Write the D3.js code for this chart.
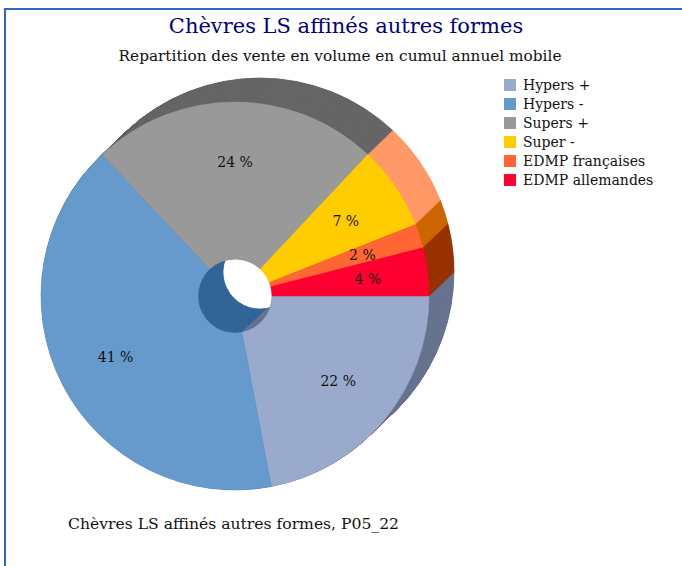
<!DOCTYPE html>
<html>
<head>
<meta charset="utf-8">
<script src="https://cdn.jsdelivr.net/npm/d3@7"></script>
<style>
  html, body { margin: 0; padding: 0; background: #fff; }
  svg { display: block; }
  text { font-family: "DejaVu Serif", serif; }
</style>
</head>
<body>
<svg id="chart" width="682" height="566"></svg>
<script>
// Circuits de distribution et leur part des ventes (%)
const categories = ["Hypers +", "Hypers -", "Supers +", "Super -", "EDMP françaises", "EDMP allemandes"];
const shares = [22, 41, 24, 7, 2, 4];
const faceColors = ["#99aacc", "#6699cc", "#999999", "#ffcc00", "#ff6633", "#ff0033"];
const sideColors = ["#677390", "#336699", "#666666", "#ff9966", "#cc6600", "#993300"];

const titleText = "Chèvres LS affinés autres formes";
const subtitleText = "Repartition des vente en volume en cumul annuel mobile";
const footerText = "Chèvres LS affinés autres formes, P05_22";

const W = 682, H = 566;
const svg = d3.select("#chart");

// cadre
svg.append("path")
  .attr("d", `M5,${H} L5,9 L${W},9`)
  .attr("fill", "none")
  .attr("stroke", "#3169b9")
  .attr("stroke-width", 2);

// titres
svg.append("text")
  .attr("x", 346).attr("y", 33)
  .attr("text-anchor", "middle")
  .attr("font-size", 21)
  .attr("fill", "#000080")
  .text(titleText);

svg.append("text")
  .attr("x", 340).attr("y", 61)
  .attr("text-anchor", "middle")
  .attr("font-size", 15.3)
  .attr("fill", "#111")
  .text(subtitleText);

svg.append("text")
  .attr("x", 68).attr("y", 529)
  .attr("font-size", 15.6)
  .attr("fill", "#111")
  .text(footerText);

// camembert en relief
const cx = 235, cy = 296;
const rOuter = 194, rInner = 37;
const depth = { dx: 25, dy: -24 };

const pie = d3.pie()
  .sort(null)
  .value(d => d)
  .startAngle(Math.PI / 2)
  .endAngle(Math.PI / 2 + 2 * Math.PI);
const arcs = pie(shares);

const arc = d3.arc().innerRadius(rInner).outerRadius(rOuter);
const labelArc = d3.arc().innerRadius(134).outerRadius(134);

const pieG = svg.append("g").attr("transform", `translate(${cx},${cy})`);

// épaisseur : copies successives de la face arrière vers la face avant
const steps = 80;
for (let s = steps; s >= 1; s--) {
  const t = s / steps;
  const layer = pieG.append("g")
    .attr("transform", `translate(${depth.dx * t},${depth.dy * t})`);
  layer.selectAll("path")
    .data(arcs)
    .join("path")
    .attr("d", arc)
    .attr("fill", (d, i) => sideColors[i])
    .attr("stroke", (d, i) => sideColors[i])
    .attr("stroke-width", 0.6);
}

// face avant
pieG.append("g").selectAll("path")
  .data(arcs)
  .join("path")
  .attr("d", arc)
  .attr("fill", (d, i) => faceColors[i])
  .attr("stroke", (d, i) => faceColors[i])
  .attr("stroke-width", 0.5);

// étiquettes de valeur
pieG.append("g").selectAll("text")
  .data(arcs)
  .join("text")
  .attr("transform", d => `translate(${labelArc.centroid(d)})`)
  .attr("text-anchor", "middle")
  .attr("dominant-baseline", "central")
  .attr("font-size", 14)
  .attr("fill", "#111")
  .text(d => `${d.data} %`);

// légende
const legend = svg.append("g").attr("transform", "translate(504,79)");
const row = legend.selectAll("g")
  .data(categories)
  .join("g")
  .attr("transform", (d, i) => `translate(0,${i * 19})`);
row.append("rect")
  .attr("width", 12).attr("height", 12)
  .attr("fill", (d, i) => faceColors[i]);
row.append("text")
  .attr("x", 19).attr("y", 6)
  .attr("dominant-baseline", "central")
  .attr("font-size", 14)
  .attr("fill", "#111")
  .text(d => d);
</script>
</body>
</html>
